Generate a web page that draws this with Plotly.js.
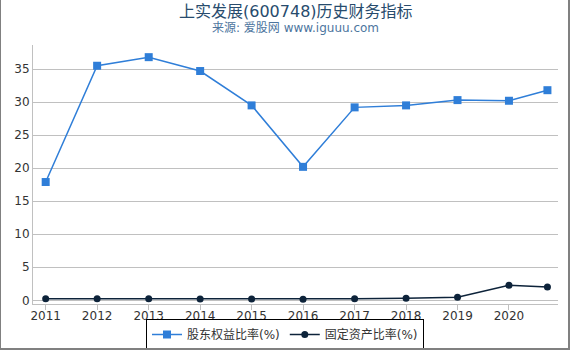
<!DOCTYPE html>
<html>
<head>
<meta charset="utf-8">
<script src="https://cdn.plot.ly/plotly-3.0.1.min.js"></script>
<style>
html,body{margin:0;padding:0;background:#fff;}
#wrap{position:relative;width:570px;height:350px;}
#chart{width:570px;height:350px;}
#frame{position:absolute;left:0;top:0;width:570px;height:350px;box-sizing:border-box;border-left:1px solid #808080;border-right:2px solid #808080;border-bottom:2px solid #808080;pointer-events:none;}
</style>
</head>
<body>
<div id="wrap"><div id="chart"></div><div id="frame"></div></div>
<script>
const dates = ["2011-01-01","2012-01-01","2013-01-01","2014-01-01","2015-01-01","2016-01-01","2017-01-01","2018-01-01","2019-01-01","2020-01-01","2020-09-30"];
const equityRatio = [17.9, 35.5, 36.8, 34.7, 29.5, 20.2, 29.2, 29.5, 30.3, 30.2, 31.8];
const fixedAssetRatio = [0.25, 0.25, 0.25, 0.2, 0.2, 0.15, 0.25, 0.3, 0.45, 2.27, 2.0];
const seriesNames = ["股东权益比率(%)", "固定资产比率(%)"];
const tickYears = ["2011","2012","2013","2014","2015","2016","2017","2018","2019","2020"];
const titleText = "上实发展(600748)历史财务指标";
const subtitleText = "来源: 爱股网 www.iguuu.com";

const font = "'DejaVu Sans', 'Noto Sans CJK SC', sans-serif";
const traces = [
  {x: dates, y: equityRatio, name: seriesNames[0], type: "scatter", mode: "lines+markers",
   line: {color: "#2f7ed8", width: 1.5}, marker: {symbol: "square", size: 8, color: "#2f7ed8"}},
  {x: dates, y: fixedAssetRatio, name: seriesNames[1], type: "scatter", mode: "lines+markers",
   line: {color: "#0d233a", width: 1.5}, marker: {symbol: "circle", size: 7, color: "#0d233a"}}
];
const layout = {
  width: 570, height: 350,
  margin: {l: 33, r: 12, t: 45, b: 46},
  paper_bgcolor: "#fff", plot_bgcolor: "#fff",
  font: {family: font, size: 12, color: "#333"},
  annotations: [
    {text: titleText, xref: "paper", yref: "paper", x: 0.5, y: (304 - 11) / 259, xanchor: "center", yanchor: "middle",
     showarrow: false, font: {family: font, size: 16, color: "#274b6d"}},
    {text: subtitleText, xref: "paper", yref: "paper", x: 0.5, y: (304 - 28) / 259, xanchor: "center", yanchor: "middle",
     showarrow: false, font: {family: font, size: 12, color: "#4d759e"}}
  ],
  xaxis: {type: "date", range: ["2010-10-03", "2020-12-14"],
          tickvals: tickYears.map(y => y + "-01-01"), ticktext: tickYears,
          showgrid: false, showline: true, linecolor: "#c0c0c0", linewidth: 1,
          ticks: "outside", ticklen: 5, tickcolor: "#c0c0c0", ticklabelstandoff: -4,
          tickfont: {size: 12, color: "#333"}, zeroline: false},
  yaxis: {range: [-0.56, 38.64], tickvals: [0,5,10,15,20,25,30,35],
          showgrid: true, gridcolor: "#c0c0c0", gridwidth: 1,
          showline: true, linecolor: "#c0c0c0", linewidth: 1,
          zeroline: false, ticks: "", tickfont: {size: 12, color: "#333"}},
  showlegend: true,
  legend: {orientation: "h", x: 0.5, xref: "container", xanchor: "center", y: -0.004, yref: "container", yanchor: "bottom",
           bordercolor: "#000", borderwidth: 1, bgcolor: "#fff",
           font: {size: 12, color: "#333"}, itemwidth: 30, tracegroupgap: 0}
};
Plotly.newPlot("chart", traces, layout, {displayModeBar: false, staticPlot: true});
</script>
</body>
</html>
